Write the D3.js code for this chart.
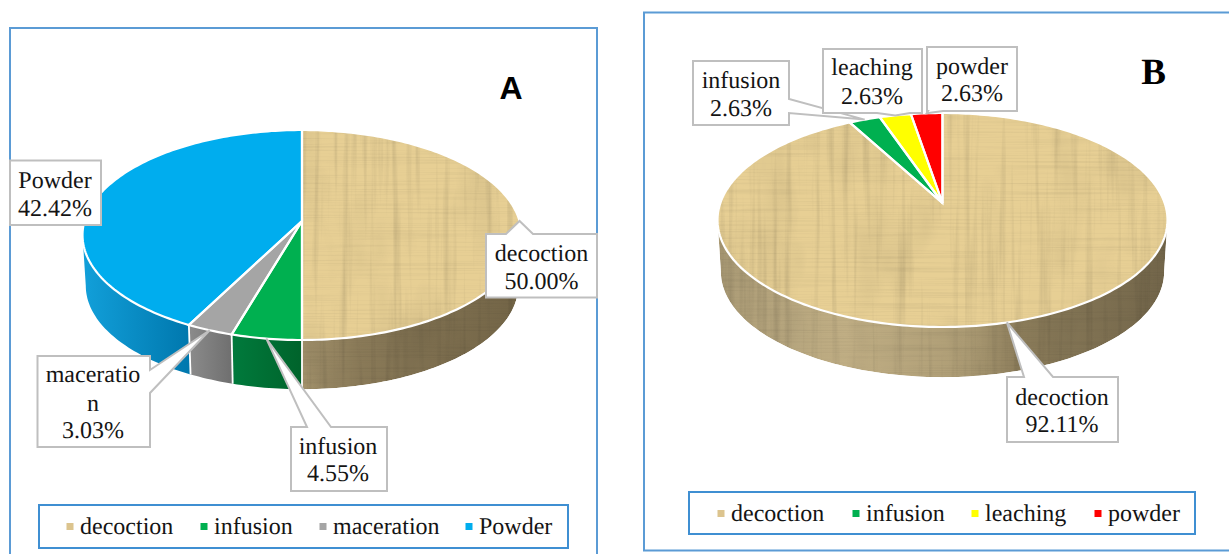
<!DOCTYPE html>
<html><head><meta charset="utf-8">
<script src="https://d3js.org/d3.v7.min.js"></script>
<style>html,body{margin:0;padding:0;background:#fff;overflow:hidden}svg{display:block}text{text-rendering:geometricPrecision}</style>
</head><body><svg id="c" width="1229" height="554"></svg>
<script>
// ---- data ----
const categoriesA = ["decoction", "infusion", "maceration", "Powder"];
const valuesA = [50.00, 4.55, 3.03, 42.42];
const labelLinesA = [["decoction"], ["infusion"], ["maceratio", "n"], ["Powder"]];
const coloursA = ["#e7cf94", "#00b050", "#a5a5a5", "#00adee"];
const categoriesB = ["decoction", "infusion", "leaching", "powder"];
const valuesB = [92.11, 2.63, 2.63, 2.63];
const labelLinesB = [["decoction"], ["infusion"], ["leaching"], ["powder"]];
const coloursB = ["#e7cf94", "#00b050", "#ffff00", "#ff0000"];
const legendSwatches = ["#dcc48e"];
const legendTextX = {A: [80, 214, 333, 479], B: [731, 866, 985, 1108]};

// ---- layout ----
const svg = d3.select("#c");
const defs = svg.append("defs");

const tex = defs.append("filter").attr("id", "papyrus").attr("filterUnits", "userSpaceOnUse")
  .attr("x", 0).attr("y", 0).attr("width", 1229).attr("height", 554)
  .attr("color-interpolation-filters", "sRGB");
function grain(freq, seed, result, slope, intercept) {
  tex.append("feTurbulence").attr("type", "fractalNoise").attr("baseFrequency", freq)
    .attr("numOctaves", 3).attr("seed", seed).attr("result", result + "n");
  tex.append("feColorMatrix").attr("in", result + "n").attr("type", "matrix")
    .attr("values", `${slope} 0 0 0 ${intercept}  ${slope} 0 0 0 ${intercept}  ${slope} 0 0 0 ${intercept}  0 0 0 0 1`)
    .attr("result", result);
}
grain("0.006 0.6", 3, "h", 0.13, 0.93);
grain("0.14 0.005", 8, "v", 0.26, 0.87);
grain("0.02 0.01", 5, "b", 0.14, 0.93);
tex.append("feBlend").attr("in", "h").attr("in2", "v").attr("mode", "multiply").attr("result", "hv");
tex.append("feBlend").attr("in", "hv").attr("in2", "b").attr("mode", "multiply").attr("result", "all0");
tex.append("feGaussianBlur").attr("in", "all0").attr("stdDeviation", 0.45).attr("result", "all");
tex.append("feBlend").attr("in", "SourceGraphic").attr("in2", "all").attr("mode", "multiply").attr("result", "mix");
tex.append("feComposite").attr("in", "mix").attr("in2", "SourceGraphic").attr("operator", "in");

function gradient(id, x0, x1, stops) {
  const g = defs.append("linearGradient").attr("id", id).attr("gradientUnits", "userSpaceOnUse")
    .attr("x1", x0).attr("x2", x1).attr("y1", 0).attr("y2", 0);
  stops.forEach(s => g.append("stop").attr("offset", s[0]).attr("stop-color", s[1]));
  return `url(#${id})`;
}

function drawPie(opt) {
  const {cx, apexY, topY, botY, rx, depth} = opt;
  const Dt = apexY - topY, Db = botY - apexY;
  const p = (Dt - Db) / (Dt + Db);
  const A = rx * Math.sqrt(1 - p * p), a = Db * (1 + p);
  const project = (t, drop, s) => {
    const x = Math.sin(t), y = -Math.cos(t), w = 1 + p * y;
    return [cx + (drop ? s : 1) * A * x / w, apexY + (drop ? s : 1) * a * y / w + (drop || 0)];
  };
  const line = d3.line();
  const arcs = d3.pie().sort(null)(opt.values);
  const sample = (a0, a1) => {
    const n = Math.max(2, Math.ceil((a1 - a0) / 0.02));
    return d3.range(n + 1).map(i => a0 + (a1 - a0) * i / n);
  };
  const frontA = Math.acos(p), frontB = 2 * Math.PI - frontA;
  const g = svg.append("g");

  // side walls
  const walls = arcs.map((d, i) => {
    const a0 = Math.max(d.startAngle, frontA), a1 = Math.min(d.endAngle, frontB);
    if (a1 <= a0) return null;
    const ts = sample(a0, a1);
    const pts = ts.map(t => project(t)).concat(ts.slice().reverse().map(t => project(t, depth, opt.shrink)));
    return {i, d: line(pts) + "Z"};
  }).filter(Boolean);
  g.selectAll("path.wall").data(walls).join("path").attr("class", "wall").attr("d", w => w.d)
    .attr("fill", w => opt.wallFills[w.i]).attr("filter", w => w.i === 0 ? "url(#papyrus)" : null);
  // white separators between neighbouring wall segments
  const seps = arcs.map(d => d.startAngle).filter(t => t > frontA && t < frontB);
  g.selectAll("path.sep").data(seps).join("path").attr("class", "sep")
    .attr("d", t => line([project(t), project(t, depth, opt.shrink)]))
    .attr("stroke", "#fff").attr("stroke-width", 1.8);

  // top face
  const faces = arcs.map((d, i) => ({i, d: line(sample(d.startAngle, d.endAngle).map(t => project(t)).concat([[cx, apexY]])) + "Z"}));
  g.selectAll("path.face").data(faces).join("path").attr("class", "face").attr("d", f => f.d)
    .attr("fill", f => opt.colours[f.i]).attr("filter", f => f.i === 0 ? "url(#papyrus)" : null);
  g.selectAll("path.faceEdge").data(faces).join("path").attr("class", "faceEdge").attr("d", f => f.d)
    .attr("fill", "none").attr("stroke", "#fff").attr("stroke-width", 2.2).attr("stroke-linejoin", "miter");

  // callouts
  opt.callouts.forEach(c => {
    const d = arcs[c.i];
    const tip = project((d.startAngle + d.endAngle) / 2);
    const [x0, y0, x1, y1] = c.box;
    let pts;
    if (c.side === "top") pts = [[x0, y0], [c.w0, y0], tip, [c.w1, y0], [x1, y0], [x1, y1], [x0, y1]];
    else if (c.side === "right") pts = [[x0, y0], [x1, y0], [x1, c.w0], tip, [x1, c.w1], [x1, y1], [x0, y1]];
    else if (c.side === "bottom") pts = [[x0, y0], [x1, y0], [x1, y1], [c.w1, y1], tip, [c.w0, y1], [x0, y1]];
    else pts = [[x0, y0], [x1, y0], [x1, y1], [x0, y1]];
    g.append("path").attr("d", line(pts) + "Z").attr("fill", "#fff")
      .attr("stroke", "#bfbfbf").attr("stroke-width", 2).attr("stroke-linejoin", "miter");
    const lines = opt.labels[c.i].concat([d3.format(".2f")(opt.values[c.i]) + "%"]);
    g.selectAll(null).data(lines).join("text").attr("class", "lbl")
      .attr("x", c.tx).attr("y", (t, j) => c.base[j]).attr("text-anchor", "middle").text(t => t);
  });

  // legend
  const [lx0, ly0, lx1, ly1] = opt.legendBox;
  g.append("rect").attr("x", lx0).attr("y", ly0).attr("width", lx1 - lx0).attr("height", ly1 - ly0)
    .attr("fill", "#fff").attr("stroke", "#3f8fd2").attr("stroke-width", 2);
  const item = g.selectAll("g.leg").data(opt.categories).join("g").attr("class", "leg");
  item.append("rect").attr("x", (d, i) => opt.legendX[i] - 13.5).attr("y", opt.legendBase - 11)
    .attr("width", 7).attr("height", 7).attr("fill", (d, i) => i === 0 ? legendSwatches[0] : opt.colours[i]);
  item.append("text").attr("class", "lbl").attr("x", (d, i) => opt.legendX[i]).attr("y", opt.legendBase).text(d => d);
}

// frames
svg.append("path").attr("d", "M10,556V28H597V556").attr("fill", "none").attr("stroke", "#5b9bd5").attr("stroke-width", 2);
svg.append("path").attr("d", "M1231,12.5H644V550.5H1231").attr("fill", "none").attr("stroke", "#5b9bd5").attr("stroke-width", 2);

drawPie({
  cx: 302, apexY: 221, topY: 130, botY: 340, rx: 219.5, depth: 51, shrink: 0.985,
  values: valuesA, colours: coloursA, categories: categoriesA, labels: labelLinesA,
  wallFills: [
    gradient("wa0", 302, 520, [[0, "#a4936c"], [0.25, "#8a7a58"], [1, "#726446"]]),
    gradient("wa1", 232, 302, [[0, "#007a3c"], [1, "#00632b"]]),
    gradient("wa2", 188, 232, [[0, "#8c8c8c"], [1, "#6f6f6f"]]),
    gradient("wa3", 82, 188, [[0, "#12a0da"], [1, "#0078ae"]])
  ],
  callouts: [
    {i: 3, box: [10, 160.5, 101, 225], side: "none", tx: 55, base: [188, 216]},
    {i: 0, box: [486, 234, 597, 297.5], side: "top", w0: 506, w1: 533, tx: 541.5, base: [261, 289]},
    {i: 2, box: [37.5, 356, 150, 447], side: "right", w0: 370, w1: 393, tx: 93, base: [382, 411, 438]},
    {i: 1, box: [291, 427, 387, 491], side: "top", w0: 307, w1: 331, tx: 338, base: [454, 481]}
  ],
  legendBox: [39, 505, 568, 548], legendX: legendTextX.A, legendBase: 534
});

drawPie({
  cx: 942.5, apexY: 203, topY: 113, botY: 327, rx: 225, depth: 52, shrink: 0.985,
  values: valuesB, colours: coloursB, categories: categoriesB, labels: labelLinesB,
  wallFills: [gradient("wb0", 720, 1165, [[0, "#ac9c76"], [0.28, "#c0ae84"], [0.55, "#ae9d75"], [0.68, "#8a7b59"], [1, "#73664a"]])],
  callouts: [
    {i: 1, box: [693, 61, 789, 125], side: "right", w0: 99, w1: 113, tx: 741, base: [88, 116]},
    {i: 2, box: [823, 49, 922, 113], side: "bottom", w0: 877, w1: 910, tx: 872, base: [75, 104]},
    {i: 3, box: [927, 47, 1017, 111], side: "bottom", w0: 928, w1: 943, tx: 972, base: [74, 101]},
    {i: 0, box: [1007, 377, 1118, 442], side: "top", w0: 1024, w1: 1053, tx: 1062, base: [405, 432]}
  ],
  legendBox: [689, 492, 1195, 534], legendX: legendTextX.B, legendBase: 521
});

svg.selectAll("text.lbl").attr("font-family", "'Liberation Serif'").attr("font-size", 24).attr("fill", "#141414");
svg.append("text").attr("x", 511).attr("y", 99).attr("text-anchor", "middle").attr("font-family", "'Liberation Sans'")
  .attr("font-weight", 700).attr("font-size", 32).attr("fill", "#000").text("A");
svg.append("text").attr("x", 1153.5).attr("y", 84).attr("text-anchor", "middle").attr("font-family", "'Liberation Serif'")
  .attr("font-weight", 700).attr("font-size", 37).attr("fill", "#000").text("B");
</script></body></html>
